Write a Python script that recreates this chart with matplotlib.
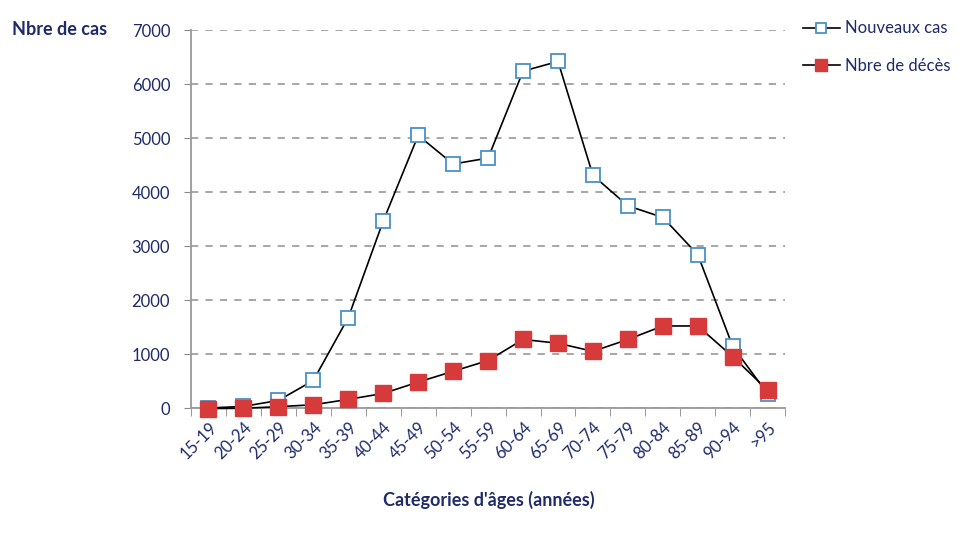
import matplotlib
matplotlib.use("Agg")
import matplotlib.pyplot as plt
import numpy as np

plt.rcParams['font.family'] = ['Lato', 'DejaVu Sans']

categories = ['15-19', '20-24', '25-29', '30-34', '35-39', '40-44', '45-49', '50-54',
              '55-59', '60-64', '65-69', '70-74', '75-79', '80-84', '85-89', '90-94', '>95']
nouveaux_cas = [0, 30, 140, 510, 1675, 3465, 5050, 4520, 4630, 6240, 6420,
                4310, 3745, 3530, 2840, 1140, 260]
deces = [-10, -5, 25, 60, 160, 270, 480, 680, 880, 1270, 1200, 1050, 1270,
         1520, 1520, 950, 330]
yticks = [0, 1000, 2000, 3000, 4000, 5000, 6000, 7000]

navy = '#1f2a6b'
x = np.arange(len(categories))

fig = plt.figure(figsize=(9.67, 5.38), dpi=100)
ax = fig.add_axes([0.1975, 0.2416, 0.6145, 0.7024])

ax.plot(x, nouveaux_cas, color='black', lw=1.2, marker='s', ms=10,
        mfc='white', mec='#4a90c8', mew=1.3, label='Nouveaux cas',
        clip_on=False, zorder=3)
ax.plot(x, deces, color='black', lw=1.2, marker='s', ms=11,
        mfc='#d63a3a', mec='#d63a3a', label='Nbre de décès',
        clip_on=False, zorder=4)

ax.set_xlim(-0.5, len(categories) - 0.5)
ax.set_ylim(0, 7000)
ax.set_yticks(yticks)
ax.set_yticklabels([str(v) for v in yticks], color=navy, fontsize=12)
ax.set_xticks(x)
ax.set_xticklabels(categories, rotation=45, ha='right', rotation_mode='anchor',
                   color=navy, fontsize=12)
ax.set_xticks(np.arange(-0.5, len(categories)), minor=True)
ax.tick_params(axis='x', which='major', length=0, pad=8)
ax.tick_params(axis='x', which='minor', length=6, color='#888888', direction='out')
ax.tick_params(axis='y', length=5, color='#888888', pad=10)

ax.grid(axis='y', linestyle=(0, (4, 4)), color='#a0a0a0', lw=1.3)
ax.set_axisbelow(True)
for s in ['top', 'right']:
    ax.spines[s].set_visible(False)
ax.spines['left'].set_color('#999999')
ax.spines['bottom'].set_color('#999999')
ax.spines['left'].set_linewidth(1.3)
ax.spines['bottom'].set_linewidth(1.3)

fig.text(0.012, 0.945, 'Nbre de cas', fontsize=13, fontweight='bold', color=navy, va='center')
fig.text(0.505, 0.07, "Catégories d'âges (années)", fontsize=13, fontweight='bold',
         color=navy, ha='center', va='center')

leg = fig.legend(loc='upper left', bbox_to_anchor=(0.815, 0.99), frameon=False,
                 fontsize=12, handlelength=2.2, labelspacing=1.3, handletextpad=0.3,
                 markerscale=0.75)
for t in leg.get_texts():
    t.set_color(navy)

fig.savefig('out.png', dpi=100)
